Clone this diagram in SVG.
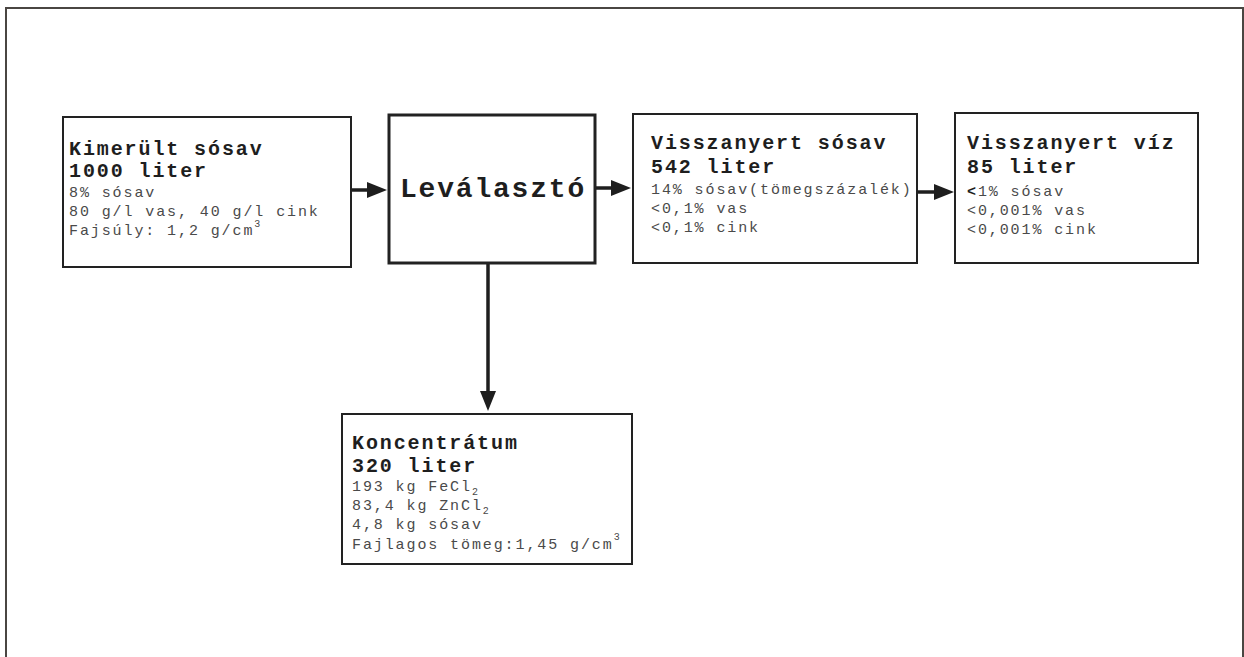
<svg xmlns="http://www.w3.org/2000/svg" width="1244" height="657" viewBox="0 0 1244 657">
  <style>
    .box { fill: #ffffff; stroke: #222222; stroke-width: 2; }
    .box-main { fill: #ffffff; stroke: #222222; stroke-width: 3; }
    .title { font-family: "Liberation Mono", "DejaVu Sans Mono", monospace; font-weight: bold; font-size: 20px; letter-spacing: 1.9px; fill: #1e1e1e; }
    .detail { font-family: "Liberation Mono", "DejaVu Sans Mono", monospace; font-size: 15px; letter-spacing: 1.9px; fill: #4a4a4a; }
    .big { font-family: "Liberation Mono", "DejaVu Sans Mono", monospace; font-weight: bold; font-size: 28px; letter-spacing: 1.8px; fill: #1e1e1e; }
    .wire { stroke: #1e1e1e; stroke-width: 3.5; fill: none; }
    .head { fill: #1e1e1e; }
    .sup { font-size: 10px; letter-spacing: 0; }
  </style>

  <rect width="1244" height="657" fill="#ffffff"/>
  <!-- page frame -->
  <rect x="6" y="8" width="1237" height="700" fill="none" stroke="#4a4642" stroke-width="2"/>

  <!-- flow connectors -->
  <g id="connectors">
    <line class="wire" x1="351" y1="190" x2="369" y2="190"/>
    <polygon class="head" points="367,182 387,190 367,198"/>
    <line class="wire" x1="595" y1="188" x2="613" y2="188"/>
    <polygon class="head" points="611,180 631,188 611,196"/>
    <line class="wire" x1="917" y1="192" x2="936" y2="192"/>
    <polygon class="head" points="934,184 954,192 934,200"/>
    <line class="wire" x1="488" y1="264" x2="488" y2="393"/>
    <polygon class="head" points="480,391 488,411 496,391"/>
  </g>

  <g id="kimerult">
    <rect class="box" x="63" y="117" width="288" height="150"/>
    <text class="title" x="69" y="155">Kimerült sósav</text>
    <text class="title" x="69" y="177">1000 liter</text>
    <text class="detail" x="69" y="197">8% sósav</text>
    <text class="detail" x="69" y="216">80 g/l vas, 40 g/l cink</text>
    <text class="detail" x="69" y="235">Fajsúly: 1,2 g/cm<tspan class="sup" dy="-8">3</tspan></text>
  </g>

  <g id="levalaszto">
    <rect class="box-main" x="389" y="115" width="206" height="148"/>
    <text class="big" x="493" y="197" text-anchor="middle">Leválasztó</text>
  </g>

  <g id="sosav">
    <rect class="box" x="633" y="114" width="284" height="149"/>
    <text class="title" x="651" y="149">Visszanyert sósav</text>
    <text class="title" x="651" y="173">542 liter</text>
    <text class="detail" x="651" y="194">14% sósav(tömegszázalék)</text>
    <text class="detail" x="651" y="213">&lt;0,1% vas</text>
    <text class="detail" x="651" y="232">&lt;0,1% cink</text>
  </g>

  <g id="viz">
    <rect class="box" x="955" y="113" width="243" height="150"/>
    <text class="title" x="967" y="149">Visszanyert víz</text>
    <text class="title" x="967" y="173">85 liter</text>
    <text class="detail" x="967" y="196"><tspan font-weight="bold" fill="#1e1e1e">&lt;</tspan>1% sósav</text>
    <text class="detail" x="967" y="215">&lt;0,001% vas</text>
    <text class="detail" x="967" y="234">&lt;0,001% cink</text>
  </g>

  <g id="koncentratum">
    <rect class="box" x="342" y="414" width="290" height="150"/>
    <text class="title" x="352" y="449">Koncentrátum</text>
    <text class="title" x="352" y="472">320 liter</text>
    <text class="detail" x="352" y="491">193 kg FeCl<tspan class="sup" dy="4">2</tspan></text>
    <text class="detail" x="352" y="510">83,4 kg ZnCl<tspan class="sup" dy="4">2</tspan></text>
    <text class="detail" x="352" y="529">4,8 kg sósav</text>
    <text class="detail" x="352" y="549">Fajlagos tömeg:1,45 g/cm<tspan class="sup" dy="-9">3</tspan></text>
  </g>
</svg>
